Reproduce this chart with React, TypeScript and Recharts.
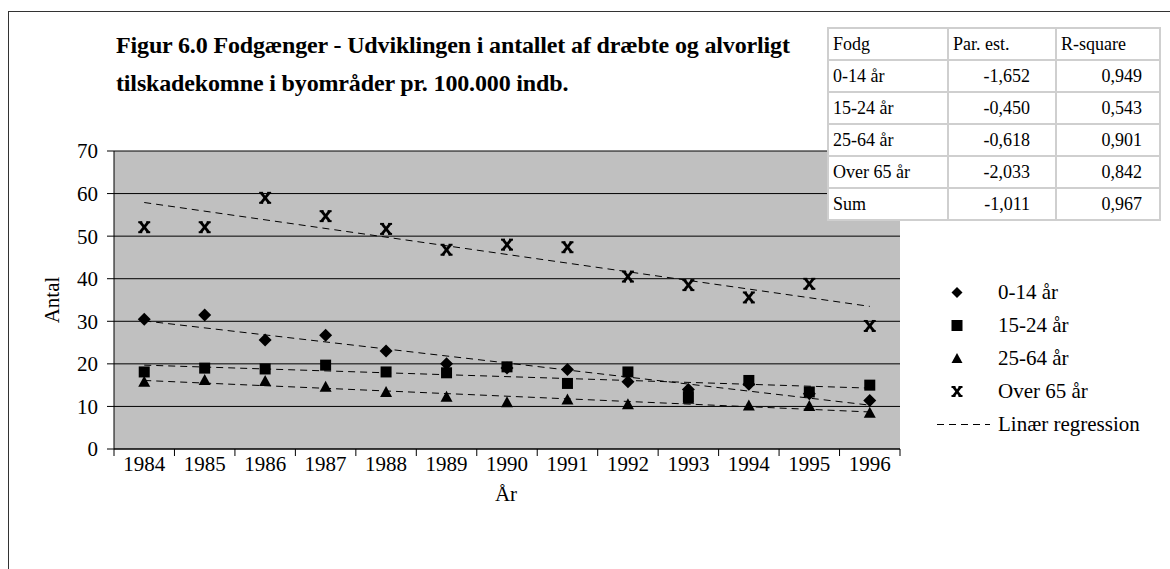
import { ComposedChart, Line, XAxis, YAxis, CartesianGrid } from "recharts"

const years = ["1984", "1985", "1986", "1987", "1988", "1989", "1990", "1991", "1992", "1993", "1994", "1995", "1996"]
const age0to14 = [30.5, 31.5, 25.6, 26.7, 23.0, 20.0, 19.0, 18.7, 15.8, 14.0, 15.2, 13.0, 11.4]
const age15to24 = [18.1, 19.0, 18.8, 19.7, 18.1, 17.9, 19.3, 15.4, 18.1, 12.3, 16.1, 13.4, 15.0]
const age25to64 = [15.8, 16.2, 16.0, 14.6, 13.4, 12.3, 11.0, 11.6, 10.5, 11.8, 10.2, 10.1, 8.5]
const over65 = [52.1, 52.1, 59.0, 54.7, 51.7, 46.8, 48.0, 47.4, 40.5, 38.5, 35.6, 38.8, 28.9]

// regression lines, read as start (1984) and end (1996) values
const trendStart = [30.1, 19.7, 16.1, 57.9]
const trendEnd = [10.3, 14.3, 8.7, 33.5]

const yTicks = [0, 10, 20, 30, 40, 50, 60, 70]

const tableHead = ["Fodg", "Par. est.", "R-square"]
const tableGroups = ["0-14 år", "15-24 år", "25-64 år", "Over 65 år", "Sum"]
const parEst = ["-1,652", "-0,450", "-0,618", "-2,033", "-1,011"]
const rSquare = ["0,949", "0,543", "0,901", "0,842", "0,967"]

const legendNames = ["0-14 år", "15-24 år", "25-64 år", "Over 65 år"]

const last = years.length - 1
const rows = years.map((year, i) => {
  const row: any = { year, a: age0to14[i], b: age15to24[i], c: age25to64[i], d: over65[i] }
  trendStart.forEach((s, k) => {
    row["t" + k] = i === 0 ? s : i === last ? trendEnd[k] : null
  })
  return row
})

const PLOT_L = 114
const PLOT_R = 900
const STEP = (PLOT_R - PLOT_L) / years.length
const serif = "'Liberation Serif', 'Times New Roman', serif"

function Diamond({ cx, cy, s = 6.5 }: any) {
  return <path d={`M${cx},${cy - s}L${cx + s},${cy}L${cx},${cy + s}L${cx - s},${cy}Z`} fill="#000" />
}
function Square({ cx, cy, s = 5.5 }: any) {
  return <rect x={cx - s} y={cy - s} width={s * 2} height={s * 2} fill="#000" />
}
function Triangle({ cx, cy, s = 6 }: any) {
  return <path d={`M${cx},${cy - s}L${cx + s},${cy + s - 1}L${cx - s},${cy + s - 1}Z`} fill="#000" />
}
// x with short bars at its tips, like the Excel star marker
function Star({ cx, cy, s = 5 }: any) {
  return (
    <g stroke="#000">
      <line x1={cx - s + 1} y1={cy - s} x2={cx + s - 1} y2={cy + s} strokeWidth={2.8} />
      <line x1={cx - s + 1} y1={cy + s} x2={cx + s - 1} y2={cy - s} strokeWidth={2.8} />
      <line x1={cx - s - 1} y1={cy - s} x2={cx - s + 3} y2={cy - s} strokeWidth={2} />
      <line x1={cx + s - 3} y1={cy - s} x2={cx + s + 1} y2={cy - s} strokeWidth={2} />
      <line x1={cx - s - 1} y1={cy + s} x2={cx - s + 3} y2={cy + s} strokeWidth={2} />
      <line x1={cx + s - 3} y1={cy + s} x2={cx + s + 1} y2={cy + s} strokeWidth={2} />
    </g>
  )
}

const shapes = [Diamond, Square, Triangle, Star]

function XTick({ x, y, payload, index }: any) {
  const left = payload.coordinate - STEP / 2
  const top = y - 7 - 6
  return (
    <g>
      <line x1={left} x2={left} y1={top} y2={top + 7} stroke="#000" />
      {index === last && (
        <line x1={left + STEP} x2={left + STEP} y1={top} y2={top + 7} stroke="#000" />
      )}
      <text x={x} y={y} dy={9} textAnchor="middle" fontSize={21} fontFamily={serif} fill="#000">
        {payload.value}
      </text>
    </g>
  )
}

export default function App() {
  const seriesKeys = ["a", "b", "c", "d"]
  const cell = { border: "2px solid #cfcfcf", padding: "0 4px" }
  return (
    <div style={{ position: "absolute", left: 0, top: 0, width: 1170, height: 569, background: "#fff", overflow: "hidden" }}>
      <div style={{ position: "absolute", left: 8, top: 11, width: 1300, height: 700, borderLeft: "1px solid #333", borderTop: "1px solid #333" }} />

      <div style={{ position: "absolute", left: 116, top: 26, fontFamily: serif, fontWeight: "bold", fontSize: 24, lineHeight: "38px", letterSpacing: -0.15, color: "#000" }}>
        Figur 6.0 Fodgænger - Udviklingen i antallet af dræbte og alvorligt<br />
        tilskadekomne i byområder pr. 100.000 indb.
      </div>

      <div style={{ position: "absolute", left: 0, top: 0 }}>
        <ComposedChart width={1170} height={569} data={rows}
                       margin={{ top: 151, right: 270, bottom: 60, left: 54 }}>
          <CartesianGrid vertical={false} stroke="#000" fill="#C0C0C0" fillOpacity={1} />
          <XAxis
            dataKey="year"
            scale="point"
            padding={{ left: STEP / 2, right: STEP / 2 }}
            interval={0}
            height={60}
            tickLine={false}
            tickSize={7}
            tickMargin={6}
            axisLine={{ stroke: "#000" }}
            tick={<XTick />}
          />
          <XAxis xAxisId="top" dataKey="year" orientation="top" height={0} tick={false}
                 tickLine={false} axisLine={{ stroke: "#808080", strokeWidth: 1 }} />
          <YAxis
            domain={[0, 70]}
            ticks={yTicks}
            width={60}
            tickSize={7}
            tickMargin={9}
            axisLine={{ stroke: "#000" }}
            tickLine={{ stroke: "#000" }}
            tick={{ fontSize: 21, fontFamily: serif, fill: "#000" }}
          />
          <YAxis yAxisId="right" orientation="right" domain={[0, 70]} width={0} tick={false}
                 tickLine={false} axisLine={{ stroke: "#808080", strokeWidth: 2 }} />
          {trendStart.map((_, k) => (
            <Line key={"t" + k} dataKey={"t" + k} connectNulls stroke="#000" strokeWidth={1}
                  strokeDasharray="7 5" dot={false} activeDot={false} isAnimationActive={false} />
          ))}
          {seriesKeys.map((key, k) => {
            const Shape = shapes[k]
            return (
              <Line key={key} dataKey={key} stroke="none" activeDot={false} isAnimationActive={false}
                    dot={(p: any) => <Shape key={key + p.index} cx={p.cx} cy={p.cy} />} />
            )
          })}
        </ComposedChart>
      </div>

      <div style={{ position: "absolute", left: 52, top: 300, transform: "translate(-50%, -50%) rotate(-90deg)", fontFamily: serif, fontSize: 21, whiteSpace: "nowrap" }}>
        Antal
      </div>
      <div style={{ position: "absolute", left: 506, top: 494, transform: "translate(-50%, -50%)", fontFamily: serif, fontSize: 21 }}>
        År
      </div>

      <div style={{ position: "absolute", left: 937, top: 276, fontFamily: serif, fontSize: 21 }}>
        {legendNames.map((name, k) => {
          const Shape = shapes[k]
          return (
            <div key={name} style={{ height: 33, display: "flex", alignItems: "center" }}>
              <svg width={53} height={33}>
                <Shape cx={20} cy={16.5} s={k === 3 ? 4.5 : 5.5} />
              </svg>
              <span style={{ marginLeft: 8 }}>{name}</span>
            </div>
          )
        })}
        <div style={{ height: 33, display: "flex", alignItems: "center" }}>
          <svg width={53} height={33}>
            <line x1={0} x2={53} y1={16.5} y2={16.5} stroke="#000" strokeDasharray="7 5" />
          </svg>
          <span style={{ marginLeft: 8 }}>Linær regression</span>
        </div>
      </div>

      <table style={{ position: "absolute", left: 827, top: 27, width: 332, tableLayout: "fixed", borderCollapse: "collapse", background: "#fff", fontFamily: serif, fontSize: 18, color: "#000" }}>
        <colgroup>
          <col style={{ width: 120 }} />
          <col style={{ width: 108 }} />
          <col style={{ width: 104 }} />
        </colgroup>
        <tbody>
          <tr style={{ height: 32 }}>
            {tableHead.map((h) => (
              <td key={h} style={{ ...cell, textAlign: "left" }}>{h}</td>
            ))}
          </tr>
          {tableGroups.map((g, i) => (
            <tr key={g} style={{ height: 32 }}>
              <td style={{ ...cell, whiteSpace: "nowrap" }}>{g}</td>
              <td style={{ ...cell, paddingRight: 25, textAlign: "right" }}>{parEst[i]}</td>
              <td style={{ ...cell, paddingRight: 17, textAlign: "right" }}>{rSquare[i]}</td>
            </tr>
          ))}
        </tbody>
      </table>
    </div>
  )
}
